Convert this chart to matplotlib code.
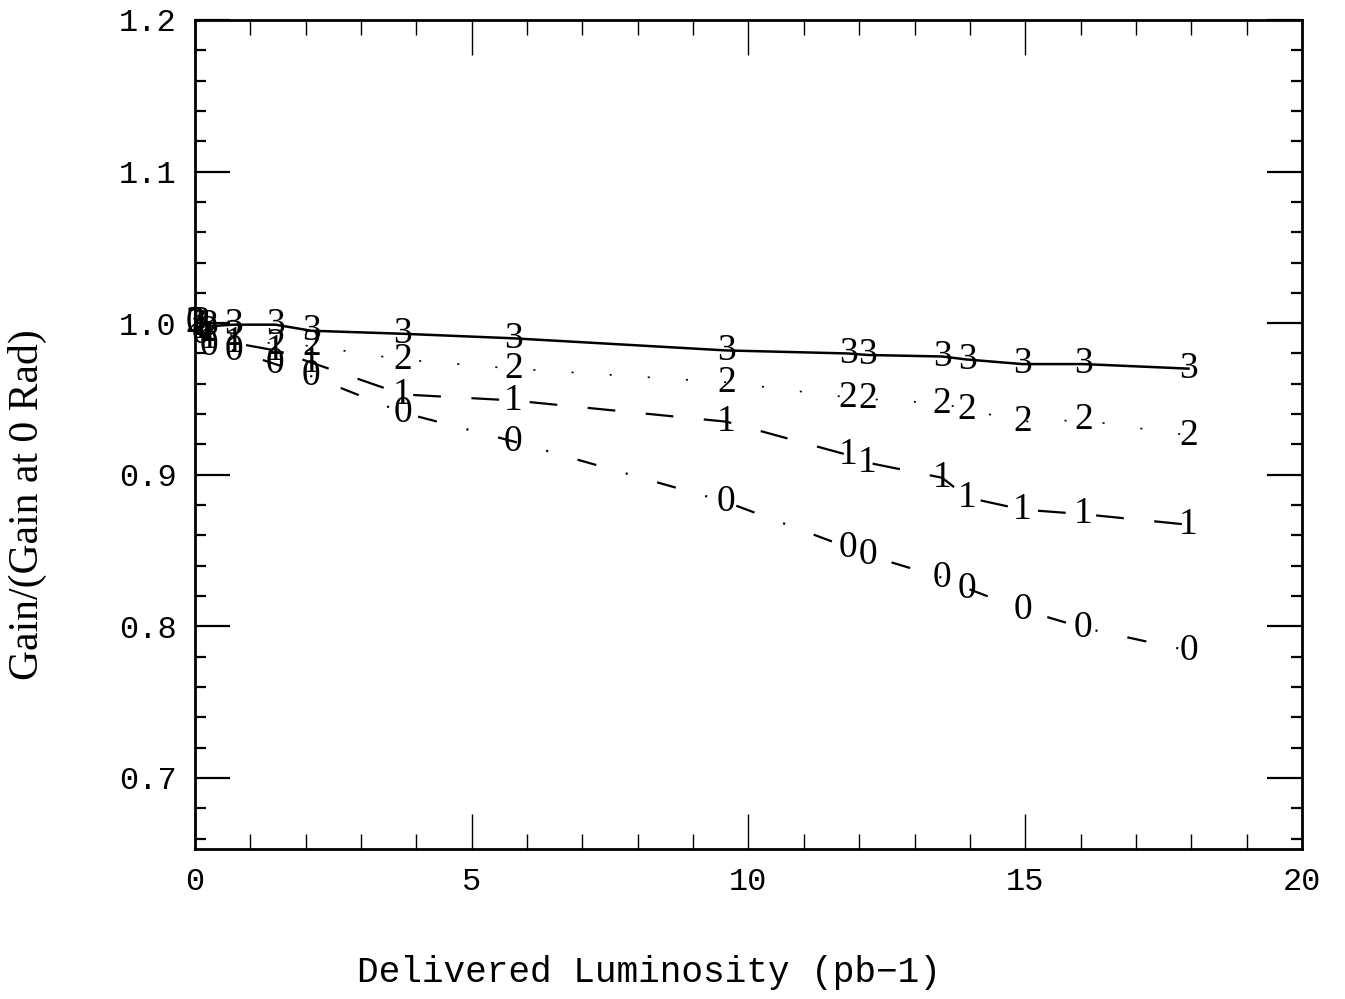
import numpy as np
import matplotlib
matplotlib.use("Agg")
from matplotlib import pyplot as plt
from matplotlib.ticker import MultipleLocator

plt.rcParams['lines.scale_dashes'] = False

# delivered luminosity (pb-1), same points for every channel
lumi = [0.0, 0.1, 0.25, 0.7, 1.45, 2.1, 3.75, 5.75, 9.6, 11.8, 12.15,
        13.5, 13.95, 14.95, 16.05, 17.95]

# relative gain, one list per channel label
gain3 = [1.0, 1.0, 0.998, 0.999, 0.999, 0.995, 0.993, 0.990, 0.982, 0.980,
         0.979, 0.978, 0.976, 0.973, 0.973, 0.970]
gain2 = [1.0, 0.998, 0.994, 0.992, 0.986, 0.985, 0.976, 0.970, 0.961, 0.951,
         0.950, 0.947, 0.943, 0.935, 0.936, 0.926]
gain1 = [1.0, 0.996, 0.990, 0.987, 0.982, 0.974, 0.953, 0.949, 0.935, 0.913,
         0.908, 0.898, 0.885, 0.877, 0.874, 0.867]
gain0 = [1.0, 0.993, 0.985, 0.982, 0.973, 0.965, 0.941, 0.922, 0.882, 0.852,
         0.847, 0.832, 0.825, 0.811, 0.799, 0.784]

series = [
    ('3', gain3, '-', 1.8),
    ('2', gain2, (0, (1.5, 26)), 1.2),
    ('1', gain1, (0, (20, 22)), 1.6),
    ('0', gain0, (0, (14, 22, 1.5, 22)), 1.6),
]

mono = 'Liberation Mono'
serif = 'Liberation Serif'

fig = plt.figure(figsize=(13.45, 9.99), dpi=100)
ax = fig.add_axes([0.1450, 0.150, 0.8230, 0.830])

for lab, g, ls, lw in series:
    ax.plot(lumi, g, color='black', linestyle=ls, linewidth=lw)
    for x, y in zip(lumi, g):
        ax.text(x, y, lab, ha='center', va='center', fontsize=27,
                family=serif, color='black')

ax.set_xlim(0, 20)
ax.set_ylim(0.653, 1.2)

ax.xaxis.set_major_locator(MultipleLocator(5))
ax.xaxis.set_minor_locator(MultipleLocator(1))
ax.yaxis.set_major_locator(MultipleLocator(0.1))
ax.yaxis.set_minor_locator(MultipleLocator(0.02))
ax.yaxis.set_major_formatter(plt.FuncFormatter(lambda v, p: '%.1f' % v))

ax.tick_params(which='both', direction='in', top=True, right=True)
ax.tick_params(which='major', length=25, width=1.6, labelsize=23, pad=13)
ax.tick_params(which='minor', length=8, width=1.6)
ax.tick_params(axis='x', which='both', width=1.0)
ax.tick_params(axis='x', which='minor', length=11)
for t in ax.get_xticklabels() + ax.get_yticklabels():
    t.set_family(mono)

for sp in ax.spines.values():
    sp.set_linewidth(2.0)

ax.set_xlabel('Delivered Luminosity (pb\u22121)', fontsize=26, family=mono)
ax.xaxis.set_label_coords(0.410, -0.128)
ax.set_ylabel('Gain/(Gain at 0 Rad)', fontsize=30, family=serif)
ax.yaxis.set_label_coords(-0.134, 0.415)

fig.savefig('out.png', dpi=100)
